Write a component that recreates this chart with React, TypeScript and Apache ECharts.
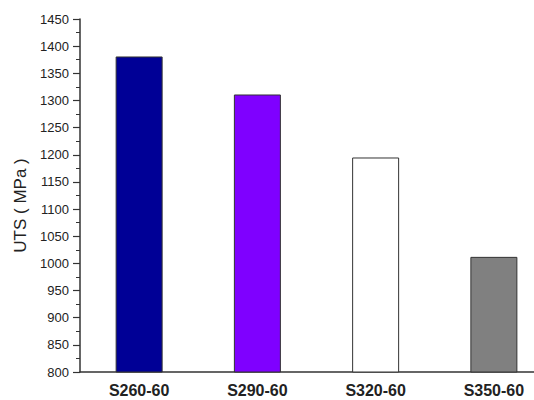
import React, { useEffect, useRef } from "react";
import * as echarts from "echarts";

const categories = ["S260-60", "S290-60", "S320-60", "S350-60"];
const utsValues = [1381, 1311, 1195, 1012];
const barColors = ["#000096", "#7F00FF", "#FFFFFF", "#808080"];

export default function App() {
  const ref = useRef<HTMLDivElement>(null);
  useEffect(() => {
    if (!ref.current) return;
    const chart = echarts.init(ref.current, undefined, { renderer: "svg" });
    chart.setOption({
      animation: false,
      backgroundColor: "#ffffff",
      grid: { left: 80, top: 19, height: 353, width: 473, containLabel: false, outerBoundsMode: "none" },
      xAxis: {
        type: "category",
        data: categories,
        axisLine: { show: true, lineStyle: { color: "#333", width: 1.5 } },
        axisTick: { show: false },
        axisLabel: {
          color: "#222",
          fontFamily: "Liberation Sans, Arial, sans-serif",
          fontWeight: "bold",
          fontSize: 16,
          margin: 10,
        },
        splitLine: { show: false },
      },
      yAxis: {
        type: "value",
        min: 800,
        max: 1450,
        interval: 50,
        name: "UTS ( MPa )",
        nameLocation: "middle",
        nameGap: 51,
        nameTextStyle: {
          color: "#222",
          fontFamily: "Liberation Sans, Arial, sans-serif",
          fontSize: 17,
          padding: [0, 20, 0, 0],
        },
        axisLine: { show: true, lineStyle: { color: "#333", width: 1.5 } },
        axisTick: { show: true, length: 7, lineStyle: { color: "#333", width: 1.2 } },
        minorTick: { show: true, splitNumber: 2, length: 4, lineStyle: { color: "#333", width: 1 } },
        axisLabel: {
          color: "#222",
          fontFamily: "Liberation Sans, Arial, sans-serif",
          fontSize: 13,
          margin: 11,
          formatter: (v: number) => String(v),
        },
        splitLine: { show: false },
      },
      series: [
        {
          type: "bar",
          barWidth: 47,
          data: utsValues.map((v, i) => ({
            value: v,
            itemStyle: { color: barColors[i], borderColor: "#333", borderWidth: 1 },
          })),
        },
      ],
    });
    return () => chart.dispose();
  }, []);
  return <div ref={ref} style={{ width: 534, height: 400, position: "absolute", left: 0, top: 0 }} />;
}
